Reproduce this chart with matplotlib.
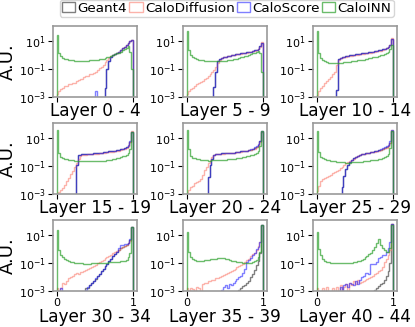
import numpy as np
import matplotlib
matplotlib.use("Agg")
from matplotlib import pyplot as plt
from matplotlib.ticker import FixedLocator, NullLocator

# Histogram contents per panel, stored as log10(A.U.), 40 bins on [0, 1].
# -9 marks an empty bin.
n_bins = 40
layers = ["Layer 0 - 4", "Layer 5 - 9", "Layer 10 - 14",
          "Layer 15 - 19", "Layer 20 - 24", "Layer 25 - 29",
          "Layer 30 - 34", "Layer 35 - 39", "Layer 40 - 44"]
models = ["Geant4", "CaloDiffusion", "CaloScore", "CaloINN"]

geant4 = [
    [-9]*25 + [-2.4, -1.0, -0.45, -0.12, 0.0, 0.07, 0.15, 0.24, 0.34, 0.46, 0.58, 0.7, 0.83, 0.98, 1.1],
    [-9]*14 + [-2.3, -1.2, -0.45, -0.3, -0.22, -0.16, -0.12, -0.08, -0.05, -0.02, 0.0, 0.03, 0.06, 0.08, 0.1, 0.13, 0.15, 0.18, 0.21, 0.24, 0.28, 0.32, 0.37, 0.45, 0.6, 0.85],
    [-9]*10 + [-2.5, -0.3, -0.2, -0.15, -0.12, -0.09, -0.06, -0.04, -0.02, 0.01, 0.04, 0.06, 0.08, 0.1, 0.12, 0.15, 0.17, 0.2, 0.22, 0.24, 0.27, 0.3, 0.33, 0.36, 0.39, 0.44, 0.5, 0.58, 0.72, 1.15],
    [-9]*10 + [-0.9, -0.22, -0.19, -0.17, -0.15, -0.14, -0.13, -0.12, -0.11, -0.1, -0.08, -0.07, -0.05, -0.04, -0.02, 0.0, 0.02, 0.04, 0.06, 0.08, 0.1, 0.13, 0.15, 0.18, 0.22, 0.25, 0.32, 0.45, 0.7, 1.4],
    [-9]*11 + [-1.8, -0.95, -0.5, -0.22, -0.16, -0.13, -0.11, -0.1, -0.09, -0.08, -0.07, -0.06, -0.05, -0.04, -0.02, 0.0, 0.02, 0.04, 0.06, 0.08, 0.1, 0.13, 0.17, 0.2, 0.26, 0.35, 0.48, 0.75, 1.45],
    [-9]*13 + [-2.5, -1.7, -1.25, -0.95, -0.75, -0.58, -0.45, -0.36, -0.28, -0.22, -0.16, -0.12, -0.09, -0.06, -0.04, -0.01, 0.02, 0.05, 0.09, 0.13, 0.15, 0.2, 0.26, 0.32, 0.42, 0.65, 1.5],
    [-9]*15 + [-2.8, -2.75, -2.6, -2.45, -2.3, -2.15, -1.95, -1.8, -1.6, -1.4, -1.2, -1.05, -0.85, -0.68, -0.5, -0.35, -0.18, -0.05, 0.05, 0.15, 0.22, 0.3, 0.4, 0.65, 1.6],
    [-9]*27 + [-2.9, -2.8, -2.65, -2.55, -2.4, -2.25, -2.0, -1.75, -1.5, -1.15, -0.85, -0.3, 1.75],
    [-9]*30 + [-2.9, -2.75, -2.65, -2.5, -2.4, -2.2, -1.95, -1.6, -1.0, 1.8],
]

calodiffusion = [
    [-2.8, -2.6, -2.45, -2.35, -2.25, -2.2, -2.1, -2.05, -1.98, -2.0, -1.85, -1.8, -1.72, -1.75, -1.6, -1.5, -1.52, -1.4, -1.35, -1.28,
     -1.2, -1.1, -0.95, -0.85, -0.7, -0.5, -0.35, -0.2, -0.05, 0.0, 0.07, 0.15, 0.24, 0.34, 0.46, 0.58, 0.7, 0.83, 0.98, 1.08],
    [-2.8, -2.6, -2.45, -2.33, -2.2, -2.1, -2.0, -1.95, -1.85, -1.75, -1.65, -1.5, -1.4, -1.2, -1.05, -0.85, -0.6, -0.35, -0.24, -0.18,
     -0.14, -0.1, -0.07, -0.04, -0.02, 0.01, 0.04, 0.06, 0.08, 0.11, 0.13, 0.16, 0.19, 0.22, 0.26, 0.3, 0.35, 0.43, 0.58, 0.9],
    [-2.9, -2.6, -2.4, -2.25, -2.0, -1.9, -1.7, -1.55, -1.4, -1.2, -0.75, -0.4, -0.25, -0.2, -0.17, -0.14, -0.11, -0.09, -0.07, -0.04,
     -0.01, 0.01, 0.03, 0.05, 0.07, 0.1, 0.12, 0.15, 0.17, 0.19, 0.22, 0.25, 0.28, 0.31, 0.35, 0.4, 0.46, 0.55, 0.72, 1.2],
    [-2.95, -2.85, -2.7, -2.55, -2.35, -2.1, -1.85, -1.6, -1.35, -1.1, -0.8, -0.5, -0.28, -0.22, -0.2, -0.19, -0.18, -0.17, -0.16, -0.15,
     -0.13, -0.12, -0.1, -0.09, -0.07, -0.05, -0.03, -0.01, 0.01, 0.03, 0.05, 0.08, 0.1, 0.14, 0.18, 0.23, 0.3, 0.42, 0.68, 1.5],
    [-2.9, -2.7, -2.5, -2.4, -2.25, -2.15, -2.05, -1.9, -1.65, -1.3, -1.05, -0.8, -0.6, -0.38, -0.22, -0.17, -0.14, -0.13, -0.12, -0.11,
     -0.1, -0.09, -0.08, -0.07, -0.06, -0.04, -0.02, 0.0, 0.02, 0.04, 0.06, 0.08, 0.11, 0.15, 0.19, 0.24, 0.32, 0.45, 0.72, 1.5],
    [-2.8, -2.4, -2.1, -1.95, -1.85, -1.78, -1.7, -1.62, -1.52, -1.45, -1.35, -1.28, -1.18, -1.05, -0.92, -0.8, -0.72, -0.63, -0.55, -0.47,
     -0.38, -0.3, -0.24, -0.18, -0.14, -0.11, -0.08, -0.06, -0.03, -0.01, 0.02, 0.05, 0.09, 0.14, 0.19, 0.25, 0.31, 0.4, 0.62, 1.55],
    [-2.8, -9, -2.75, -2.45, -2.5, -2.25, -2.1, -2.0, -1.95, -1.8, -1.72, -1.75, -1.62, -1.65, -1.58, -1.5, -1.42, -1.35, -1.3, -1.2,
     -1.12, -1.02, -0.95, -0.85, -0.76, -0.66, -0.58, -0.48, -0.4, -0.3, -0.22, -0.13, -0.05, 0.05, 0.15, 0.22, 0.3, 0.4, 0.6, 1.6],
    [-2.8, -9, -2.75, -2.85, -9, -2.7, -2.8, -9, -2.5, -2.45, -2.4, -2.3, -2.25, -2.2, -2.2, -2.1, -2.05, -2.0, -1.95, -1.85,
     -1.8, -1.7, -1.62, -1.55, -1.48, -1.4, -1.3, -1.22, -1.15, -1.05, -0.95, -0.8, -0.68, -0.52, -0.38, -0.25, -0.05, 0.2, 0.5, 1.75],
    [-2.8, -9, -9, -2.8, -9, -2.7, -9, -9, -2.8, -9, -2.7, -9, -2.6, -9, -2.7, -2.5, -9, -2.4, -2.6, -2.3,
     -2.5, -2.2, -2.4, -2.35, -2.25, -2.2, -2.15, -2.05, -2.0, -1.9, -1.8, -1.7, -1.6, -1.5, -1.25, -0.95, -0.7, -0.45, -0.1, 1.8],
]

caloscore = [
    [-9]*20 + [-2.6] + [-9]*4 + [-2.4, -1.0, -0.45, -0.12, 0.0, 0.07, 0.15, 0.24, 0.34, 0.46, 0.58, 0.7, 0.83, 0.98, 1.1],
    [-9]*14 + [-2.3, -1.2, -0.45, -0.3, -0.22, -0.16, -0.12, -0.08, -0.05, -0.02, 0.0, 0.03, 0.06, 0.08, 0.1, 0.13, 0.15, 0.18, 0.21, 0.24, 0.28, 0.32, 0.37, 0.45, 0.6, 0.85],
    [-9]*10 + [-2.5, -0.3, -0.2, -0.15, -0.12, -0.09, -0.06, -0.04, -0.02, 0.01, 0.04, 0.06, 0.08, 0.1, 0.12, 0.15, 0.17, 0.2, 0.22, 0.24, 0.27, 0.3, 0.33, 0.36, 0.39, 0.44, 0.5, 0.58, 0.72, 1.15],
    [-9]*10 + [-0.9, -0.22, -0.19, -0.17, -0.15, -0.14, -0.13, -0.12, -0.11, -0.1, -0.08, -0.07, -0.05, -0.04, -0.02, 0.0, 0.02, 0.04, 0.06, 0.08, 0.1, 0.13, 0.15, 0.19, 0.24, 0.3, 0.38, 0.5, 0.75, 1.45],
    [-9]*11 + [-1.8, -0.95, -0.5, -0.22, -0.16, -0.13, -0.11, -0.1, -0.09, -0.08, -0.07, -0.06, -0.05, -0.04, -0.02, 0.0, 0.02, 0.04, 0.06, 0.08, 0.1, 0.13, 0.18, 0.24, 0.32, 0.42, 0.55, 0.8, 1.5],
    [-9]*13 + [-2.5, -1.7, -1.25, -0.95, -0.75, -0.58, -0.45, -0.36, -0.28, -0.22, -0.16, -0.12, -0.09, -0.06, -0.04, -0.01, 0.02, 0.05, 0.09, 0.14, 0.2, 0.27, 0.35, 0.42, 0.52, 0.75, 1.55],
    [-9]*2 + [-2.8] + [-9]*12 + [-2.9, -2.7, -2.55, -2.4, -2.25, -2.1, -1.9, -1.75, -1.6, -1.4, -1.2, -1.05, -0.85, -0.68, -0.5, -0.35, -0.18, 0.05, 0.3, 0.28, 0.34, 0.36, 0.42, 0.7, 1.6],
    [-9]*18 + [-2.9, -2.7, -2.6, -2.75, -2.5, -2.55, -2.4, -2.3, -2.15, -2.0, -1.9, -1.7, -1.45, -0.9, -0.8, -0.62, -0.4, -0.25, -0.02, 0.15, 0.5, 1.75],
    [-9]*12 + [-2.7, -9, -2.6, -2.5, -2.7, -2.4, -2.5, -2.6, -2.3, -2.5, -2.2, -2.0, -1.9, -1.7, -1.7, -1.75, -1.1, -1.1, -1.1, -0.95, -0.65, -0.6, -0.45, -0.4, -0.2, 0.05, 0.5, 1.8],
]

caloinn = [
    [1.45, 0.15, -0.1, -0.2, -0.27, -0.32, -0.35, -0.38, -0.4, -0.41, -0.42, -0.43, -0.43, -0.43, -0.42, -0.42, -0.41, -0.4, -0.39, -0.38,
     -0.36, -0.34, -0.32, -0.29, -0.26, -0.22, -0.18, -0.13, -0.08, -0.02, 0.04, 0.1, 0.17, 0.24, 0.32, 0.4, 0.5, 0.65, 0.2, -1.0],
    [1.7, 0.35, 0.0, -0.15, -0.22, -0.28, -0.33, -0.37, -0.4, -0.43, -0.45, -0.46, -0.47, -0.47, -0.47, -0.47, -0.46, -0.45, -0.44, -0.43,
     -0.41, -0.39, -0.37, -0.35, -0.32, -0.29, -0.26, -0.22, -0.18, -0.14, -0.1, -0.05, 0.0, 0.05, 0.1, 0.15, 0.2, 0.25, 0.1, -1.2],
    [1.7, 0.1, -0.25, -0.38, -0.46, -0.51, -0.55, -0.57, -0.58, -0.58, -0.58, -0.57, -0.56, -0.55, -0.54, -0.52, -0.5, -0.48, -0.46, -0.44,
     -0.42, -0.4, -0.38, -0.36, -0.33, -0.3, -0.27, -0.24, -0.21, -0.18, -0.15, -0.12, -0.08, -0.04, 0.0, 0.04, 0.1, 0.2, 0.4, 0.7],
    [1.6, -0.05, -0.33, -0.42, -0.48, -0.52, -0.55, -0.58, -0.6, -0.62, -0.63, -0.64, -0.65, -0.66, -0.67, -0.67, -0.67, -0.67, -0.67, -0.67,
     -0.67, -0.66, -0.66, -0.65, -0.63, -0.61, -0.6, -0.58, -0.55, -0.52, -0.49, -0.45, -0.41, -0.37, -0.32, -0.26, -0.2, -0.1, 0.2, 1.45],
    [1.6, 0.2, -0.3, -0.4, -0.46, -0.5, -0.53, -0.55, -0.57, -0.59, -0.6, -0.61, -0.61, -0.6, -0.6, -0.59, -0.58, -0.57, -0.56, -0.55,
     -0.54, -0.53, -0.51, -0.5, -0.48, -0.47, -0.45, -0.43, -0.41, -0.38, -0.35, -0.32, -0.29, -0.25, -0.2, -0.13, -0.05, 0.1, 0.4, 1.5],
    [1.5, 0.0, -0.33, -0.43, -0.5, -0.55, -0.58, -0.62, -0.65, -0.68, -0.7, -0.71, -0.73, -0.74, -0.75, -0.76, -0.76, -0.76, -0.75, -0.74,
     -0.73, -0.72, -0.71, -0.69, -0.67, -0.65, -0.63, -0.61, -0.6, -0.58, -0.56, -0.54, -0.52, -0.48, -0.43, -0.36, -0.3, -0.15, 0.25, 1.5],
    [1.35, -0.1, -0.45, -0.6, -0.72, -0.8, -0.86, -0.9, -0.94, -0.97, -0.99, -1.0, -1.02, -1.03, -1.04, -1.05, -1.05, -1.04, -1.03, -1.03,
     -1.02, -1.02, -1.01, -1.0, -0.99, -0.98, -0.97, -0.96, -0.95, -0.93, -0.92, -0.91, -0.9, -0.89, -0.88, -0.86, -0.8, -0.6, -0.3, 1.6],
    [1.25, -0.2, -0.6, -0.72, -0.78, -0.82, -0.83, -0.83, -0.82, -0.8, -0.78, -0.76, -0.74, -0.72, -0.7, -0.68, -0.66, -0.65, -0.65, -0.67,
     -0.7, -0.74, -0.78, -0.82, -0.86, -0.89, -0.92, -0.94, -0.96, -0.98, -0.99, -1.0, -1.0, -1.0, -0.95, -0.85, -0.75, -0.55, -0.2, 1.7],
    [1.25, 0.0, -0.45, -0.7, -0.82, -0.9, -0.95, -0.98, -1.0, -1.0, -1.01, -1.02, -1.02, -1.02, -1.02, -1.01, -1.0, -1.0, -0.98, -0.95,
     -0.92, -0.88, -0.84, -0.78, -0.7, -0.6, -0.48, -0.38, -0.25, -0.1, 0.15, 0.45, 0.72, 0.3, 0.05, -0.1, -0.18, -0.22, 0.1, 1.7],
]

colors = ["black", "salmon", "blue", "tab:green"]
alphas = [0.5, 0.6, 0.5, 0.7]

edges = np.linspace(0, 1, n_bins + 1)
centers = 0.5 * (edges[:-1] + edges[1:])

fig, axes = plt.subplots(3, 3, figsize=(4.15, 3.27), dpi=100, sharex=True)
fig.subplots_adjust(left=0.127, right=0.957, top=0.922, bottom=0.11,
                    wspace=0.54, hspace=0.36)

for k, ax in enumerate(axes.flat):
    series = [geant4[k], calodiffusion[k], caloscore[k], caloinn[k]]
    ax.set_yscale("log")
    for vals, c, a, name in zip(series, colors, alphas, models):
        v = np.asarray(vals, dtype=float)
        w = np.where(v < -5, 0.0, 10.0 ** v)
        ax.hist(centers, bins=edges, weights=w, histtype="step",
                color=c, alpha=a, lw=1.0, label=name)
    ax.set_ylim(1e-3, 10 ** 2.1)
    ax.set_xlim(-0.05, 1.05)
    ax.yaxis.set_major_locator(FixedLocator([1e-3, 1e-1, 1e1]))
    ax.yaxis.set_minor_locator(NullLocator())
    ax.xaxis.set_major_locator(FixedLocator([0, 1]))
    ax.tick_params(labelsize=8, pad=1.5)
    ax.set_xlabel(layers[k], fontsize=12.2, labelpad=0)
    for s in ax.spines.values():
        s.set_color("#999999")
        s.set_linewidth(1.2)
    if k % 3 == 0:
        ax.set_ylabel("A.U.", fontsize=13, labelpad=1)

handles, labels = axes[0, 0].get_legend_handles_labels()
fig.legend(handles, labels, loc="upper center", bbox_to_anchor=(0.546, 1.005),
           ncol=4, fontsize=9.7, handlelength=1.0, handleheight=0.75,
           handletextpad=0.17, columnspacing=0.15, borderpad=0.15,
           borderaxespad=0.1)

fig.savefig("out.png", dpi=100)
